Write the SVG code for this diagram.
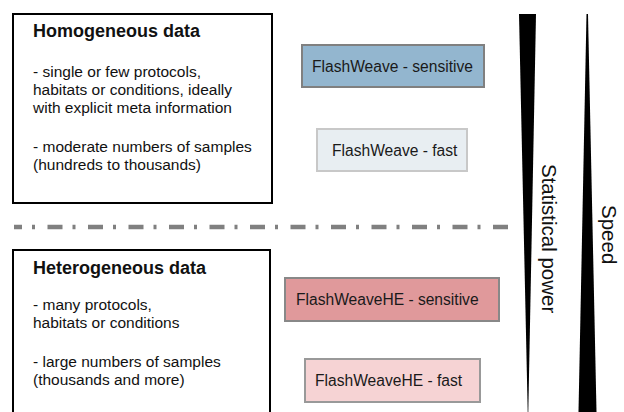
<svg xmlns="http://www.w3.org/2000/svg" width="624" height="412" viewBox="0 0 624 412">
  <style>
    text { font-family: "Liberation Sans", Arial, Helvetica, sans-serif; fill: #111; }
    .title { font-size: 18px; font-weight: bold; }
    .body { font-size: 15.5px; }
    .lbl { font-size: 15.6px; fill: #1a1a1a; }
    .axis { font-size: 20.5px; fill: #111; }
    .databox { fill: #fff; stroke: #000; stroke-width: 2; }
    .wedge { fill: #000; }
  </style>
  <rect width="624" height="412" fill="#fff"/>

  <g id="homogeneous">
    <rect class="databox" x="13" y="14" width="259" height="189"/>
    <text class="title" x="33" y="37">Homogeneous data</text>
    <text class="body" x="33" y="77">- single or few protocols,</text>
    <text class="body" x="33" y="95">habitats or conditions, ideally</text>
    <text class="body" x="33" y="113">with explicit meta information</text>
    <text class="body" x="33" y="152">- moderate numbers of samples</text>
    <text class="body" x="33" y="170">(hundreds to thousands)</text>
  </g>

  <g id="heterogeneous">
    <rect class="databox" x="13" y="250" width="257" height="200"/>
    <text class="title" x="33" y="274">Heterogeneous data</text>
    <text class="body" x="33" y="310">- many protocols,</text>
    <text class="body" x="33" y="328">habitats or conditions</text>
    <text class="body" x="33" y="367">- large numbers of samples</text>
    <text class="body" x="33" y="385">(thousands and more)</text>
  </g>

  <g id="separator">
    <line x1="14" y1="227" x2="508" y2="227" stroke="#808080" stroke-width="4.5" stroke-dasharray="15 10 3 12.5" stroke-dashoffset="7"/>
  </g>

  <g id="flashweave-sensitive">
    <rect x="302" y="45" width="182" height="42" fill="#93b6cf" stroke="#808080" stroke-width="2"/>
    <text class="lbl" x="312" y="72">FlashWeave - sensitive</text>
  </g>
  <g id="flashweave-fast">
    <rect x="317" y="129" width="150" height="42" fill="#e8eef2" stroke="#c8c8c8" stroke-width="2"/>
    <text class="lbl" x="332" y="156">FlashWeave - fast</text>
  </g>
  <g id="flashweavehe-sensitive">
    <rect x="285" y="278" width="214" height="43" fill="#e0999b" stroke="#888" stroke-width="2"/>
    <text class="lbl" x="296" y="305">FlashWeaveHE - sensitive</text>
  </g>
  <g id="flashweavehe-fast">
    <rect x="305" y="359" width="175" height="43" fill="#f6d3d4" stroke="#999" stroke-width="2"/>
    <text class="lbl" x="315" y="386">FlashWeaveHE - fast</text>
  </g>

  <g id="statistical-power">
    <polygon class="wedge" points="519,14 536,14 528.3,412 527.7,412"/>
    <text class="axis" transform="translate(542,164) rotate(90)">Statistical power</text>
  </g>
  <g id="speed">
    <polygon class="wedge" points="586.5,14 588,14 596.5,412 578.5,412"/>
    <text class="axis" transform="translate(602,205) rotate(90)">Speed</text>
  </g>
</svg>
